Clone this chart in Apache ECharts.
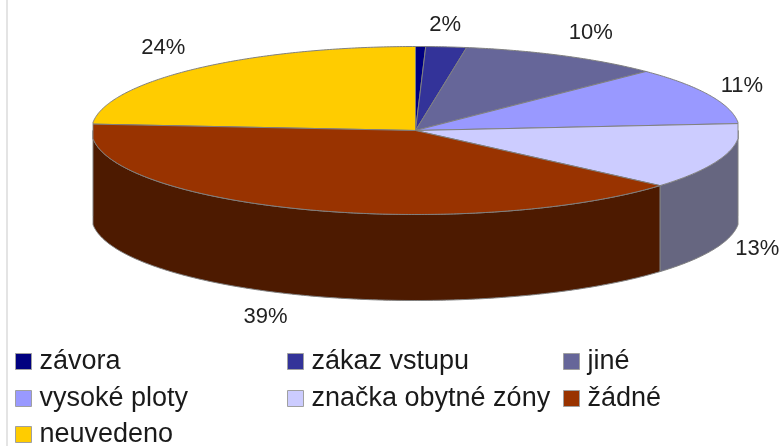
<!DOCTYPE html>
<html><head><meta charset="utf-8">
<script src="https://cdn.jsdelivr.net/npm/echarts@6/dist/echarts.min.js"></script>
<style>html,body{margin:0;padding:0;background:#fff}#c{width:781px;height:446px}</style>
</head><body><div id="c"></div>
<script>
const categories = ['závora','zákaz vstupu','jiné','vysoké ploty','značka obytné zóny','žádné','neuvedeno'];
const values = [0.5,2,10,11,12.6,39.5,23.6];
const labels = [null,'2%','10%','11%','13%','39%','24%'];
const colors = ['#000080','#333399','#666699','#9999FF','#CCCCFF','#993300','#FFCC00'];
const wallColors = ['#000040','#1a1a4d','#33334d','#666680','#666680','#4d1a00','#806600'];

const G = {cx:415.5, cy:130.5, rx:324, ry:84, depth:86, minX:93, maxX:738};
const labelOffsets = [null,[-1,-22],[27,-23],[32,-9],[34,6],[-25,23],[-32,-21]];
const legendPos = [[15,348],[287,348],[563,348],[15,385],[287,385],[563,385],[15,421]];

const total = values.reduce((a,b)=>a+b,0);
let run = 0;
const spans = values.map(v=>{const s=run/total*Math.PI*2; run+=v; return [s,run/total*Math.PI*2];});
const rim = (t,dy=0)=>[Math.max(G.minX,Math.min(G.maxX,G.cx+G.rx*Math.sin(t))), G.cy-G.ry*Math.cos(t)+dy];
const arc = (a,b,dy=0)=>{const n=Math.max(2,Math.ceil((b-a)/0.01));const p=[];for(let i=0;i<=n;i++)p.push(rim(a+(b-a)*i/n,dy));return p;};

function renderer(idx){
  return function(params,api){
    const frac = api.value(0)/total*Math.PI*2;
    const a = spans[idx][0], b = a+frac;
    const kids = [];
    const wa = Math.max(a,Math.PI/2), wb = Math.min(b,Math.PI*1.5);
    if (wb>wa){
      const top = arc(wa,wb), bot = arc(wa,wb,G.depth).reverse();
      kids.push({type:'polygon',shape:{points:top.concat(bot)},z2:1,
        style:{fill:wallColors[idx],stroke:'#808080',lineWidth:1}});
    }
    kids.push({type:'polygon',shape:{points:[[G.cx,G.cy]].concat(arc(a,b))},z2:2,
      style:{fill:colors[idx],stroke:'#808080',lineWidth:1}});
    if (labels[idx]){
      const mid=(a+b)/2, wallDrop = (mid>Math.PI/2&&mid<Math.PI*1.5)?G.depth:0;
      const p = rim(mid,wallDrop), o = labelOffsets[idx];
      kids.push({type:'text',z2:3,x:p[0]+o[0],y:p[1]+o[1],
        style:{text:labels[idx],fill:'#222',font:'22px "Liberation Sans"',align:'center',verticalAlign:'middle'}});
    }
    return {type:'group',children:kids};
  };
}

const chart = echarts.init(document.getElementById('c'),null,{renderer:'canvas'});
chart.setOption({
  animation:false,
  backgroundColor:'#fff',
  graphic:[{type:'rect',shape:{x:6,y:0,width:2,height:446},style:{fill:'#e4e4e4'},silent:true}],
  legend:categories.map((n,i)=>({
    data:[n],left:legendPos[i][0],top:legendPos[i][1],icon:'rect',itemWidth:16,itemHeight:16,itemGap:0,
    selectedMode:false,padding:0,
    itemStyle:{borderColor:'#a0a0a0',borderWidth:1},
    textStyle:{color:'#1a1a1a',fontSize:27,fontFamily:'Liberation Sans',padding:[0,0,0,3]}
  })),
  series:categories.map((n,i)=>({
    type:'custom',name:n,coordinateSystem:'none',silent:true,
    itemStyle:{color:colors[i]},
    z:i===5?3:2,
    renderItem:renderer(i),
    data:[[values[i]]]
  }))
});
</script></body></html>
